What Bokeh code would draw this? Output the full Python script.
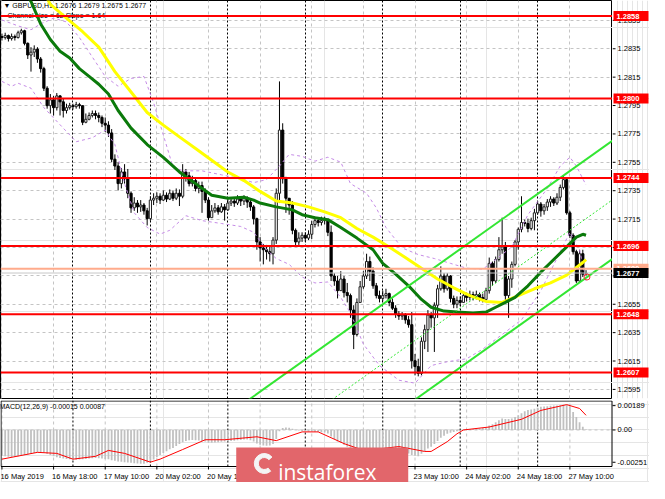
from bokeh.plotting import figure
from bokeh.models import Range1d, FixedTicker, Span, Grid
from bokeh.layouts import column, row
from bokeh.embed import file_html
from bokeh.resources import INLINE
from bokeh.core.properties import value

FONT = "Liberation Sans"

# ---------------- data (GBPUSD H1) ----------------
first_open = 1.28436
close = [1.28429, 1.28443, 1.28422, 1.28436, 1.28429, 1.28463, 1.28477, 1.28388, 1.28306, 1.28326,
         1.28347, 1.28278, 1.28210, 1.28072, 1.27949, 1.27990, 1.27935, 1.28018, 1.27976, 1.27915,
         1.27935, 1.27949, 1.27942, 1.27956, 1.27949, 1.27832, 1.27853, 1.27880, 1.27894, 1.27880,
         1.27866, 1.27825, 1.27812, 1.27757, 1.27572, 1.27524, 1.27400, 1.27482, 1.27434, 1.27332,
         1.27229, 1.27263, 1.27236, 1.27249, 1.27208, 1.27153, 1.27284, 1.27297, 1.27311, 1.27284,
         1.27318, 1.27291, 1.27332, 1.27297, 1.27332, 1.27311, 1.27482, 1.27455, 1.27400, 1.27421,
         1.27366, 1.27386, 1.27345, 1.27284, 1.27160, 1.27208, 1.27229, 1.27201, 1.27236, 1.27215,
         1.27263, 1.27277, 1.27263, 1.27291, 1.27277, 1.27297, 1.27270, 1.27236, 1.27153, 1.26989,
         1.26947, 1.26934, 1.26920, 1.26906, 1.27002, 1.27332, 1.27777, 1.27434, 1.27297, 1.27249,
         1.27071, 1.26989, 1.27016, 1.27036, 1.27016, 1.27043, 1.27112, 1.27139, 1.27126, 1.27139,
         1.27146, 1.27057, 1.26749, 1.26714, 1.26646, 1.26728, 1.26632, 1.26611, 1.26509, 1.26337,
         1.26563, 1.26673, 1.26749, 1.26851, 1.26783, 1.26680, 1.26611, 1.26591, 1.26611, 1.26625,
         1.26563, 1.26522, 1.26481, 1.26467, 1.26474, 1.26440, 1.26406, 1.26152, 1.26111, 1.26063,
         1.26289, 1.26371, 1.26474, 1.26454, 1.26543, 1.26659, 1.26749, 1.26659, 1.26749, 1.26591,
         1.26550, 1.26577, 1.26563, 1.26611, 1.26598, 1.26618, 1.26605, 1.26618, 1.26598, 1.26584,
         1.26646, 1.26838, 1.26714, 1.26865, 1.26934, 1.26954, 1.26611, 1.26728, 1.26831, 1.26989,
         1.27078, 1.27126, 1.27119, 1.27084, 1.27139, 1.27194, 1.27256, 1.27208, 1.27236, 1.27270,
         1.27291, 1.27263, 1.27304, 1.27373, 1.27428, 1.27194, 1.27036, 1.26920, 1.26714, 1.26906,
         1.26762, 1.26770]
high = [1.28457, 1.28463, 1.28450, 1.28457, 1.28450, 1.28477, 1.28491, 1.28484, 1.28395, 1.28361,
        1.28374, 1.28361, 1.28292, 1.28223, 1.28086, 1.28031, 1.28018, 1.28038, 1.28024, 1.27997,
        1.27963, 1.27969, 1.27963, 1.27976, 1.27969, 1.27949, 1.27894, 1.27901, 1.27915, 1.27915,
        1.27901, 1.27880, 1.27866, 1.27839, 1.27784, 1.27606, 1.27551, 1.27510, 1.27537, 1.27503,
        1.27345, 1.27304, 1.27284, 1.27284, 1.27263, 1.27229, 1.27311, 1.27332, 1.27338, 1.27332,
        1.27352, 1.27338, 1.27359, 1.27352, 1.27366, 1.27359, 1.27537, 1.27503, 1.27482, 1.27455,
        1.27441, 1.27414, 1.27414, 1.27366, 1.27304, 1.27249, 1.27263, 1.27249, 1.27263, 1.27256,
        1.27297, 1.27304, 1.27297, 1.27318, 1.27311, 1.27318, 1.27311, 1.27291, 1.27249, 1.27160,
        1.27023, 1.26975, 1.26968, 1.26954, 1.27023, 1.27366, 1.28120, 1.27825, 1.27448, 1.27297,
        1.27277, 1.27084, 1.27057, 1.27057, 1.27057, 1.27071, 1.27139, 1.27167, 1.27160, 1.27167,
        1.27167, 1.27153, 1.27105, 1.26769, 1.26749, 1.26783, 1.26749, 1.26700, 1.26625, 1.26543,
        1.26591, 1.26714, 1.26783, 1.26906, 1.26886, 1.26810, 1.26700, 1.26646, 1.26646, 1.26659,
        1.26632, 1.26591, 1.26543, 1.26502, 1.26495, 1.26488, 1.26467, 1.26495, 1.26200, 1.26166,
        1.26317, 1.26406, 1.26509, 1.26495, 1.26563, 1.26687, 1.26817, 1.26769, 1.26769, 1.26755,
        1.26611, 1.26605, 1.26605, 1.26632, 1.26632, 1.26646, 1.26639, 1.26646, 1.26632, 1.26625,
        1.26666, 1.26879, 1.26851, 1.26886, 1.27023, 1.27160, 1.26989, 1.26749, 1.26851, 1.27002,
        1.27091, 1.27311, 1.27146, 1.27153, 1.27160, 1.27222, 1.27277, 1.27270, 1.27256, 1.27291,
        1.27311, 1.27304, 1.27332, 1.27393, 1.27455, 1.27434, 1.27208, 1.27050, 1.26934, 1.26934,
        1.26934, 1.26790]
low = [1.28408, 1.28415, 1.28401, 1.28408, 1.28408, 1.28422, 1.28450, 1.28374, 1.28278, 1.28189,
       1.28292, 1.28251, 1.28182, 1.28052, 1.27928, 1.27894, 1.27880, 1.27915, 1.27880, 1.27866,
       1.27894, 1.27921, 1.27921, 1.27928, 1.27928, 1.27812, 1.27825, 1.27846, 1.27866, 1.27853,
       1.27832, 1.27798, 1.27764, 1.27729, 1.27551, 1.27496, 1.27352, 1.27366, 1.27400, 1.27297,
       1.27194, 1.27208, 1.27194, 1.27201, 1.27181, 1.27105, 1.27139, 1.27249, 1.27263, 1.27256,
       1.27277, 1.27270, 1.27284, 1.27277, 1.27284, 1.27242, 1.27297, 1.27414, 1.27380, 1.27380,
       1.27345, 1.27332, 1.27194, 1.27263, 1.27139, 1.27167, 1.27194, 1.27181, 1.27194, 1.27139,
       1.27208, 1.27242, 1.27236, 1.27249, 1.27242, 1.27249, 1.27229, 1.27208, 1.27112, 1.26934,
       1.26851, 1.26831, 1.26865, 1.26851, 1.26831, 1.26975, 1.27263, 1.27400, 1.27194, 1.27181,
       1.27043, 1.26961, 1.26968, 1.26989, 1.26989, 1.27002, 1.27009, 1.27091, 1.27098, 1.27105,
       1.27112, 1.27030, 1.26714, 1.26680, 1.26591, 1.26646, 1.26598, 1.26563, 1.26454, 1.26234,
       1.26323, 1.26563, 1.26659, 1.26728, 1.26714, 1.26659, 1.26591, 1.26563, 1.26570, 1.26591,
       1.26536, 1.26509, 1.26454, 1.26440, 1.26440, 1.26413, 1.26385, 1.26097, 1.26049, 1.26042,
       1.26049, 1.26234, 1.26214, 1.26385, 1.26214, 1.26454, 1.26646, 1.26632, 1.26646, 1.26563,
       1.26522, 1.26522, 1.26536, 1.26563, 1.26570, 1.26577, 1.26577, 1.26584, 1.26570, 1.26563,
       1.26577, 1.26625, 1.26680, 1.26700, 1.26851, 1.26906, 1.26577, 1.26454, 1.26666, 1.26817,
       1.26934, 1.27057, 1.27098, 1.27057, 1.27071, 1.27071, 1.27181, 1.27167, 1.27181, 1.27208,
       1.27236, 1.27242, 1.27249, 1.27277, 1.27359, 1.27181, 1.27016, 1.26900, 1.26700, 1.26707,
       1.26742, 1.26750]

# moving averages (yellow, green) and envelope bands, sampled at bar numbers
yellow_bars = [12, 15, 20, 25, 30, 35, 40, 45, 50, 55, 60, 65, 70, 75, 80, 85, 90, 95, 100, 105,
               110, 115, 120, 125, 130, 135, 140, 145, 150, 155, 160, 165, 170, 175, 180, 181]
yellow_vals = [1.28790, 1.28662, 1.28566, 1.28470, 1.28361, 1.28189, 1.28045, 1.27901, 1.27812, 1.27729,
               1.27647, 1.27565, 1.27482, 1.27421, 1.27345, 1.27277, 1.27263, 1.27236, 1.27201, 1.27160,
               1.27084, 1.27023, 1.26954, 1.26879, 1.26803, 1.26728, 1.26666, 1.26611, 1.26570, 1.26563,
               1.26611, 1.26659, 1.26700, 1.26755, 1.26844, 1.26865]
green_bars = [8, 9, 12, 15, 18, 21, 24, 27, 30, 33, 36, 40, 45, 50, 55, 60, 65, 70, 75, 78, 80,
              85, 90, 93, 97, 101, 105, 110, 115, 118, 122, 126, 130, 133, 137, 141, 146, 150, 153,
              156, 159, 163, 167, 171, 175, 178, 180, 181]
green_vals = [1.28720, 1.28683, 1.28525, 1.28415, 1.28333, 1.28285, 1.28210, 1.28155, 1.28100, 1.28031,
              1.27915, 1.27791, 1.27675, 1.27585, 1.27482, 1.27400, 1.27318, 1.27297, 1.27304, 1.27284,
              1.27263, 1.27236, 1.27215, 1.27181, 1.27160, 1.27146, 1.27091, 1.27016, 1.26934, 1.26838,
              1.26762, 1.26680, 1.26584, 1.26529, 1.26502, 1.26495, 1.26488, 1.26495, 1.26529, 1.26563,
              1.26598, 1.26680, 1.26776, 1.26865, 1.26954, 1.27023, 1.27043, 1.27036]
upper_bars = [0, 5, 9, 12, 16, 20, 24, 28, 32, 36, 40, 44, 47, 50, 53, 56, 62, 68, 74, 78, 82, 86,
              89, 93, 97, 101, 105, 108, 113, 116, 119, 124, 129, 134, 139, 144, 149, 153, 158, 163,
              169, 173, 176, 178, 180, 181]
upper_vals = [1.28553, 1.28511, 1.28484, 1.28525, 1.28566, 1.28539, 1.28429, 1.28292, 1.28155, 1.28086,
              1.28141, 1.28155, 1.27969, 1.27743, 1.27517, 1.27490, 1.27490, 1.27462, 1.27434, 1.27407,
              1.27428, 1.27524, 1.27606, 1.27592, 1.27558, 1.27586, 1.27551, 1.27400, 1.27332, 1.27229,
              1.27091, 1.26947, 1.26900, 1.26872, 1.26838, 1.26804, 1.26797, 1.26865, 1.26954, 1.27181,
              1.27366, 1.27524, 1.27586, 1.27524, 1.27434, 1.27390]
lower_bars = [0, 3, 5, 9, 13, 19, 23, 28, 32, 35, 38, 41, 45, 49, 52, 57, 62, 68, 74, 78, 82, 85,
              89, 93, 97, 101, 105, 108, 112, 117, 123, 128, 133, 138, 144, 149, 155, 161, 167, 173,
              176, 179, 181]
lower_vals = [1.28120, 1.28086, 1.28107, 1.28072, 1.27935, 1.27791, 1.27695, 1.27723, 1.27777, 1.27675,
              1.27400, 1.27194, 1.27091, 1.27044, 1.27071, 1.27174, 1.27139, 1.27119, 1.27098, 1.27057,
              1.26934, 1.26872, 1.26831, 1.26742, 1.26700, 1.26707, 1.26598, 1.26488, 1.26269, 1.26118,
              1.26015, 1.25994, 1.26118, 1.26145, 1.26166, 1.26234, 1.26337, 1.26440, 1.26646, 1.26920,
              1.27057, 1.26934, 1.26714]

# equidistant channel (two anchor bars)
chan_bars = [70, 190]
chan_upper = [1.25772, 1.27716]
chan_mid = [1.25355, 1.27299]
chan_lower = [1.24938, 1.26882]

# horizontal levels
red_levels = [1.2858, 1.2800, 1.2744, 1.2696, 1.2648, 1.2607]
orange_level = 1.2680
bid_level = 1.2677
marker_bar = [181.3]
marker_price = [1.26742]

price_ticks = [1.2595, 1.2615, 1.2635, 1.2655, 1.2675, 1.2695, 1.2715, 1.2735,
               1.2755, 1.2775, 1.2795, 1.2815, 1.2835, 1.2855]

# time axis
tick_bars = [0, 16, 32, 48, 64, 80, 96, 112, 128, 144, 160, 176]
tick_labels = ["16 May 2019", "16 May 18:00", "17 May 10:00", "20 May 02:00", "20 May 18:00",
               "21 May 10:00", "22 May 02:00", "22 May 18:00", "23 May 10:00", "24 May 02:00",
               "24 May 18:00", "27 May 10:00"]
day_bars = [22, 46, 70, 94, 118, 142, 166]

# MACD(12,26,9)
macd_hist = [-0.00200, -0.00205, -0.00208, -0.00210, -0.00210, -0.00205, -0.00198, -0.00195, -0.00190, -0.00185,
             -0.00180, -0.00175, -0.00172, -0.00175, -0.00185, -0.00195, -0.00205, -0.00212, -0.00218, -0.00222,
             -0.00225, -0.00228, -0.00230, -0.00232, -0.00230, -0.00228, -0.00225, -0.00222, -0.00220, -0.00218,
             -0.00220, -0.00222, -0.00225, -0.00228, -0.00235, -0.00240, -0.00245, -0.00248, -0.00250, -0.00252,
             -0.00255, -0.00258, -0.00260, -0.00262, -0.00262, -0.00255, -0.00245, -0.00230, -0.00210, -0.00195,
             -0.00180, -0.00165, -0.00150, -0.00140, -0.00125, -0.00110, -0.00095, -0.00085, -0.00080, -0.00078,
             -0.00080, -0.00082, -0.00085, -0.00090, -0.00100, -0.00100, -0.00098, -0.00095, -0.00092, -0.00090,
             -0.00088, -0.00085, -0.00083, -0.00080, -0.00078, -0.00075, -0.00075, -0.00080, -0.00090, -0.00105,
             -0.00115, -0.00120, -0.00122, -0.00120, -0.00110, -0.00070, -0.00010, 0.00015, 0.00020, 0.00018,
             0.00010, 0.00000, -0.00005, -0.00008, -0.00010, -0.00012, -0.00012, -0.00013, -0.00015, -0.00018,
             -0.00020, -0.00028, -0.00050, -0.00070, -0.00090, -0.00100, -0.00115, -0.00130, -0.00150, -0.00175,
             -0.00170, -0.00160, -0.00150, -0.00140, -0.00140, -0.00145, -0.00150, -0.00155, -0.00160, -0.00162,
             -0.00165, -0.00170, -0.00172, -0.00175, -0.00178, -0.00180, -0.00182, -0.00195, -0.00200, -0.00205,
             -0.00185, -0.00165, -0.00145, -0.00130, -0.00110, -0.00085, -0.00060, -0.00045, -0.00030, -0.00022,
             -0.00015, -0.00010, -0.00005, 0.00000, 0.00003, 0.00005, 0.00008, 0.00010, 0.00012, 0.00015,
             0.00020, 0.00035, 0.00045, 0.00060, 0.00075, 0.00090, 0.00085, 0.00085, 0.00090, 0.00100,
             0.00115, 0.00130, 0.00145, 0.00155, 0.00160, 0.00165, 0.00172, 0.00180, 0.00182, 0.00185,
             0.00188, 0.00190, 0.00190, 0.00192, 0.00195, 0.00195, 0.00185, 0.00140, 0.00100, 0.00060,
             0.00025, 0.00003]
signal_bars = [0, 11, 17, 22, 29, 33, 38, 46, 49, 56, 63, 69, 79, 85, 93, 98, 106, 113, 118, 123,
               131, 133, 138, 141, 143, 151, 161, 167, 175, 179, 181]
signal_vals = [-0.00227, -0.00174, -0.00182, -0.00227, -0.00205, -0.00159, -0.00182, -0.00250, -0.00227, -0.00152,
               -0.00076, -0.00076, -0.00053, -0.00083, -0.00015, -0.00015, -0.00106, -0.00167, -0.00144, -0.00129,
               -0.00167, -0.00167, -0.00091, -0.00030, 0.00000, 0.00023, 0.00083, 0.00152, 0.00197, 0.00167,
               0.00114]
macd_ticks = [-0.00251, 0.0, 0.00189]
macd_tick_text = ["-0.00251", "0.00", "0.00189"]
macd_main_now, macd_signal_now = -0.00015, 0.00087

# ---------------- layout constants ----------------
n = len(close)
bars = list(range(n))
opens = [first_open] + close[:-1]
up = [c >= o for o, c in zip(opens, close)]

FW, FH, MH, AH, SW = 612, 398, 66, 16, 37     # frame widths / heights in px
XR = (-0.45, 189.2)
YR = (1.25886, 1.28690)
MR = (-0.00284, 0.00229)
MSC = (MR[1] - MR[0]) / MH                     # MACD units per px
PXX = (XR[1] - XR[0]) / FW                     # bars per px
MXR = (XR[0], XR[0] + (FW + SW) * PXX)         # MACD frame incl. its scale column
MYR = (MR[0] - AH * MSC, MR[1])                # MACD frame incl. time-label strip

GRID = "#c4c4c4"


def base_fig(w, h, xr, yr, top=0, bottom=0):
    f = figure(frame_width=w, frame_height=h, x_range=xr, y_range=yr, output_backend="svg",
               toolbar_location=None, x_axis_location=None, y_axis_location=None,
               min_border_left=0, min_border_right=0, min_border_top=top,
               min_border_bottom=bottom,
               background_fill_color="white", border_fill_color="white")
    f.outline_line_color = None
    return f


# ---------------- main price panel ----------------
p = base_fig(FW, FH, Range1d(*XR), Range1d(*YR), bottom=1)
p.outline_line_color = "black"
p.outline_line_width = 1
p.add_layout(Grid(dimension=0, ticker=FixedTicker(ticks=tick_bars),
                  grid_line_color=GRID, grid_line_dash="3 3"))
p.add_layout(Grid(dimension=1, ticker=FixedTicker(ticks=price_ticks),
                  grid_line_color=GRID, grid_line_dash="3 3"))
p.add_layout(Grid(dimension=0, ticker=FixedTicker(ticks=day_bars),
                  grid_line_color="black", grid_line_dash="2 2"))

p.text(x=[XR[0]], y=[YR[1]],
       text=["\u25bc GBPUSD,H1  %.4f %.4f %.4f %.4f" % (opens[-1], high[-1], low[-1], close[-1])],
       x_offset=3, y_offset=5, text_font=value(FONT), text_font_size="7px",
       text_baseline="middle", text_color="black")
p.text(x=[XR[0]], y=[YR[1]], text=["Channel size = 62 Slope = 1.64"],
       x_offset=7, y_offset=15, text_font=value(FONT), text_font_size="7px",
       text_baseline="middle", text_color="black")

p.segment(x0=bars, y0=low, x1=bars, y1=high, color="black", line_width=1)
ub = [b for b, k in zip(bars, up) if k]
p.vbar(x=ub, top=[close[b] for b in ub], bottom=[opens[b] for b in ub], width=0.68,
       fill_color="white", line_color="#202020", line_width=1)
db = [b for b, k in zip(bars, up) if not k]
p.vbar(x=db, top=[opens[b] for b in db], bottom=[close[b] for b in db], width=0.68,
       fill_color="black", line_color="black", line_width=1)

p.line(upper_bars, upper_vals, color="#c58be6", line_width=1, line_dash="3 3")
p.line(lower_bars, lower_vals, color="#c58be6", line_width=1, line_dash="3 3")
p.line(yellow_bars, yellow_vals, color="#ffff00", line_width=3)
p.line(green_bars, green_vals, color="#0b7a0b", line_width=3)

p.line(chan_bars, chan_upper, color="#33e633", line_width=2)
p.line(chan_bars, chan_lower, color="#33e633", line_width=2)
p.line(chan_bars, chan_mid, color="#33e633", line_width=1, line_dash="2 2")

for lv in red_levels:
    p.add_layout(Span(location=lv, dimension="width", line_color="#ff0000", line_width=2))
p.add_layout(Span(location=orange_level, dimension="width", line_color="#ffab8c", line_width=2))
p.add_layout(Span(location=bid_level, dimension="width", line_color="#c8c8c8", line_width=1))

p.scatter(x=marker_bar, y=marker_price, marker="circle", size=6, fill_color=None,
          line_color="#ff3030", line_width=1)

# price scale column (shares the price range)
pr = base_fig(SW, FH, Range1d(0, SW), p.y_range, bottom=1)
pr.segment(x0=[0] * len(price_ticks), x1=[3] * len(price_ticks), y0=price_ticks, y1=price_ticks,
           color="black", line_width=1)
pr.text(x=[5] * len(price_ticks), y=price_ticks, text=["%.4f" % t for t in price_ticks],
        text_font=value(FONT), text_font_size="7.5px", text_baseline="middle", text_color="black")
box_levels = red_levels + [orange_level, bid_level]
box_colors = ["#ff0000"] * len(red_levels) + ["#ffab8c", "#000000"]
for lv, col in zip(box_levels, box_colors):
    pr.rect(x=[18.5], y=[lv], width=35, height=10, height_units="screen",
            fill_color=col, line_color=None)
    pr.text(x=[4], y=[lv], text=["%.4f" % lv], text_font=value(FONT), text_font_size="7.5px",
            text_font_style="bold", text_baseline="middle", text_color="white")

# ---------------- MACD panel, its scale column and the time strip ----------------
m = base_fig(FW + SW, MH + AH, Range1d(*MXR), Range1d(*MYR), top=1)
m.segment(x0=tick_bars, x1=tick_bars, y0=[MR[0]] * len(tick_bars), y1=[MR[1]] * len(tick_bars),
          color=GRID, line_width=1, line_dash="3 3")
m.segment(x0=[XR[0]], x1=[XR[1]], y0=[0.0], y1=[0.0], color=GRID, line_width=1, line_dash="3 3")
m.segment(x0=day_bars, x1=day_bars, y0=[MR[0]] * len(day_bars), y1=[MR[1]] * len(day_bars),
          color="black", line_width=1, line_dash="2 2")

m.vbar(x=bars, top=macd_hist, bottom=0, width=0.55, fill_color="#c0c0c0", line_color=None)
m.line(signal_bars, signal_vals, color="#ff0000", line_width=1)

hx, hy = 0.5 * PXX, 0.5 * MSC
m.quad(left=[XR[0] + hx], right=[XR[1] - hx], top=[MR[1] - hy], bottom=[MR[0]],
       fill_color=None, line_color="black", line_width=1)

m.text(x=[XR[0]], y=[MR[1]],
       text=["MACD(12,26,9) %.5f %.5f" % (macd_main_now, macd_signal_now)],
       x_offset=-1, y_offset=6, text_font=value(FONT), text_font_size="7px",
       text_baseline="middle", text_color="black")

# MACD scale
m.segment(x0=[XR[1]] * 3, x1=[XR[1] + 3 * PXX] * 3, y0=macd_ticks, y1=macd_ticks,
          color="black", line_width=1)
m.text(x=[XR[1] + 5 * PXX] * 3, y=macd_ticks, text=macd_tick_text, text_font=value(FONT),
       text_font_size="7.5px", text_baseline="middle", text_color="black")

# time ticks and labels
m.segment(x0=tick_bars, x1=tick_bars, y0=[MR[0]] * len(tick_bars),
          y1=[MR[0] - 3 * MSC] * len(tick_bars), color="black", line_width=1)
m.text(x=tick_bars, y=[MR[0] - 10 * MSC] * len(tick_bars), text=tick_labels, x_offset=-1.5,
       text_font=value(FONT), text_font_size="7.5px", text_baseline="middle", text_color="black")

# instaforex badge
m.quad(left=[72.6], right=[125.9], top=[-0.00191 + 7 * MSC], bottom=[MYR[0] - 5 * MSC],
       fill_color="#e2666b", line_color=None)
m.annular_wedge(x=[81.3], y=[MR[0] + 3 * MSC], inner_radius=6, outer_radius=10,
                inner_radius_units="screen", outer_radius_units="screen",
                start_angle=0.7, end_angle=5.4, color="#f4f4f4")
m.text(x=[85.6], y=[MR[0] - 5 * MSC], text=["instaforex"], text_font=value("Open Sans"),
       text_font_size="21px", text_baseline="alphabetic", text_color="white")

layout = column(row(p, pr, spacing=0), m, spacing=0)
open("out.html", "w").write(file_html(layout, INLINE))
